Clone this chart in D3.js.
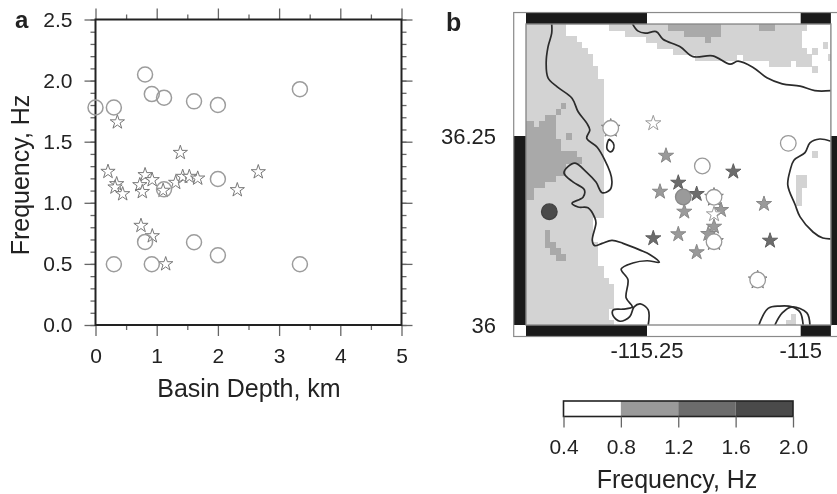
<!DOCTYPE html>
<html>
<head>
<meta charset="utf-8">
<script src="https://cdn.jsdelivr.net/npm/d3@7"></script>
<style>
body { margin: 0; background: #fff; }
svg { display: block; filter: blur(0.35px); }
text { font-family: "Liberation Sans", Arial, sans-serif; fill: #222; }
</style>
</head>
<body>
<div id="chart"></div>
<script>
// panel a: [basin depth km, frequency Hz]
const scatterCircles = [[0,1.78],[0.30,1.78],[0.81,2.05],[0.92,1.89],[1.12,1.86],[1.61,1.83],[2.0,1.80],[3.34,1.93],
  [2.0,1.195],[1.12,1.11],[0.81,0.68],[1.61,0.677],[2.0,0.57],[0.30,0.497],[0.92,0.497],[3.34,0.497]];
const scatterStars = [[0.357,1.66],[1.386,1.41],[0.204,1.255],[2.66,1.252],[0.81,1.228],[0.926,1.187],[0.724,1.146],
  [0.346,1.154],[0.319,1.127],[0.444,1.072],[0.765,1.09],[1.105,1.10],[1.31,1.165],[1.425,1.214],[1.533,1.214],
  [1.67,1.20],[2.317,1.105],[0.743,0.813],[0.928,0.728],[1.147,0.499]];

// panel b: [lon, lat, frequency]
const mapStars = [[-115.2398,36.2668,0.6],[-115.2191,36.2239,1.1],[-115.1096,36.2028,1.4],[-115.1991,36.1882,1.4],
  [-115.2289,36.1763,1.1],[-115.1692,36.1733,1.4],[-115.1296,36.1521,1.1],[-115.1893,36.1499,1.1],[-115.141,36.1464,0.6],
  [-115.0597,36.1601,1.1],[-115.141,36.13,1.1],[-115.1503,36.1204,1.1],[-115.1991,36.12,1.1],[-115.2398,36.1147,1.4],
  [-115.0499,36.1115,1.4],[-115.1692,36.0962,1.1]];
// white stars that sit under the open circles, only the tips show
const mapStarsUnder = [[-115.309,36.2602,0.6],[-115.141,36.1689,0.6],[-115.141,36.1102,0.6],[-115.07,36.0595,0.6]];
const mapCircles = [[-115.191,36.1693,1.0],[-115.16,36.2103,0.6],[-115.141,36.1689,0.6],[-115.141,36.1102,0.6],
  [-115.0202,36.2403,0.6],[-115.309,36.2602,0.6],[-115.07,36.0595,0.6],[-115.4089,36.1499,1.8]];

// coast lines, lon/lat
const coastWest = [[-115.405,36.398],[-115.405,36.386],[-115.411,36.368],[-115.414,36.347],[-115.411,36.327],[-115.396,36.315],
  [-115.372,36.300],[-115.362,36.282],[-115.348,36.267],[-115.343,36.258],[-115.348,36.247],[-115.331,36.235],[-115.310,36.202],
  [-115.307,36.189],[-115.310,36.179],[-115.323,36.175],[-115.333,36.189],[-115.348,36.202],[-115.367,36.214],[-115.379,36.209],
  [-115.385,36.201],[-115.370,36.189],[-115.352,36.179],[-115.354,36.169],[-115.372,36.161],[-115.362,36.156],[-115.346,36.155],
  [-115.335,36.142],[-115.333,36.135],[-115.339,36.112],[-115.335,36.105],[-115.323,36.108],[-115.307,36.112],[-115.289,36.108],
  [-115.261,36.099],[-115.245,36.093],[-115.230,36.083],[-115.250,36.085],[-115.273,36.082],[-115.292,36.074],[-115.281,36.060],
  [-115.284,36.036],[-115.274,36.024],[-115.289,36.021],[-115.305,36.020],[-115.305,36.012],[-115.294,36.005],[-115.278,36.011],
  [-115.271,36.024],[-115.261,36.028],[-115.248,36.020],[-115.248,36.000]];
const coastIsland = [[-115.312,36.246],[-115.305,36.241],[-115.304,36.234],[-115.309,36.229],[-115.315,36.233],[-115.315,36.239],[-115.312,36.246]];
const coastNorth = [[-115.274,36.399],[-115.265,36.389],[-115.253,36.386],[-115.235,36.388],[-115.224,36.378],[-115.196,36.368],
  [-115.175,36.355],[-115.143,36.356],[-115.115,36.345],[-115.102,36.349],[-115.078,36.341],[-115.055,36.327],[-115.030,36.319],
  [-115.001,36.316],[-114.977,36.310],[-114.951,36.310]];
const coastEast = [[-114.951,36.243],[-114.969,36.246],[-114.985,36.241],[-114.993,36.228],[-115.011,36.218],[-115.017,36.205],
  [-115.021,36.185],[-115.009,36.159],[-115.001,36.143],[-114.980,36.123],[-114.964,36.115],[-114.951,36.114]];
const coastSouthA = [[-115.068,36.000],[-115.053,36.022],[-115.034,36.025],[-115.014,36.024],[-115.001,36.017],[-114.996,36.000]];
const coastSouthB = [[-115.042,36.000],[-115.030,36.016],[-115.014,36.024],[-114.990,36.016],[-114.985,36.000]];
const coasts = [coastWest, coastIsland, coastNorth, coastEast, coastSouthA, coastSouthB];

// basin raster, runs of grid cells: [row, first col, end col]
const rasterLight = [[0,0,8],[1,0,8],[2,0,10],[3,0,11],[4,0,12],[5,0,13],[6,0,13],[7,0,14],[8,0,14],
  ...d3.range(9,32).map(r => [r,0,15]),
  [32,0,13],[33,0,13],[34,0,13],[35,0,13],[36,0,14],[37,0,14],[38,0,14],[39,0,14],[40,0,15],[41,0,15],[42,0,16],
  [43,0,17],[44,0,17],[45,0,17],[46,0,17],[47,0,16],[48,0,16],[49,0,17],
  [0,16,53],[1,19,52],[2,23,52],[3,25,52],[4,28,53],[5,32,40],[5,41,54],[6,46,50],[6,51,54],
  [3,56,57],[4,54,55],[5,57,58],[7,54,55],[21,54,55],[25,51,53],[26,51,53],[27,51,52],[28,51,52],[29,51,52],[48,50,51],[49,49,51]];
const rasterDark = [[13,7,8],[14,6,7],[15,4,6],[16,0,2],[16,3,6],[17,0,6],[18,0,6],[18,8,9],[19,0,7],[20,0,7],[21,0,10],[22,0,11],
  [23,0,8],[24,0,8],[25,0,6],[26,0,4],[27,0,2],[28,0,2],[34,4,5],[35,4,5],[36,4,6],[37,5,7],[38,6,8],
  [0,27,37],[1,30,37],[2,34,35],[0,44,47]];
const gridLonStart = -115.451, gridLonStep = 0.0087, gridLatStart = 36.398, gridLatStep = 0.008;

const freqEdges = [0.4,0.8,1.2,1.6,2.0];
const freqColors = ["#ffffff","#9a9a9a","#6c6c6c","#4a4a4a"];
const depthTicks = [0,1,2,3,4,5];
const freqTicks = [0,0.5,1,1.5,2,2.5];
const lonTicks = [-115.25,-115];
const latTicks = [36,36.25];
const lonLabels = ["-115.25","-115"];
const latLabels = ["36","36.25"];

const width = 837, height = 494;
const svg = d3.select("#chart").append("svg").attr("width", width).attr("height", height);

const freqColor = d3.scaleThreshold().domain(freqEdges.slice(1,4)).range(freqColors);
const star = r => d3.symbol(d3.symbolStar, r * r / 0.8908)();

// ---- panel a ----
const x = d3.scaleLinear([0,5],[95.5,401.5]);
const y = d3.scaleLinear([0,2.5],[325,19.5]);
const tickGray = "#666";

function styleAxis(g, size){
  g.select(".domain").remove();
  g.selectAll("line").attr("stroke", tickGray).attr("stroke-width", 1.3);
  g.selectAll("text").style("font-size", size + "px").attr("fill", "#222");
}
const minorX = d3.range(0.5,5,1), minorY = d3.range(0,2.51,0.1);

[[d3.axisBottom, 325],[d3.axisTop, 19.5]].forEach(([ax, pos]) => {
  svg.append("g").attr("transform", `translate(0,${pos})`)
    .call(ax(x).tickValues(minorX).tickSize(5).tickFormat("")).call(styleAxis, 21);
  const major = svg.append("g").attr("transform", `translate(0,${pos})`)
    .call(ax(x).tickValues(depthTicks).tickSize(11).tickPadding(11.8).tickFormat(pos === 325 ? d3.format("d") : ""));
  major.call(styleAxis, 21);
});
[[d3.axisLeft, 95.5],[d3.axisRight, 401.5]].forEach(([ax, pos]) => {
  svg.append("g").attr("transform", `translate(${pos},0)`)
    .call(ax(y).tickValues(minorY).tickSize(5).tickFormat("")).call(styleAxis, 21);
  svg.append("g").attr("transform", `translate(${pos},0)`)
    .call(ax(y).tickValues(freqTicks).tickSize(11).tickPadding(12).tickFormat(pos === 95.5 ? d3.format(".1f") : ""))
    .call(styleAxis, 21);
});
svg.append("rect").attr("x", x(0)).attr("y", y(2.5)).attr("width", x(5)-x(0)).attr("height", y(0)-y(2.5))
  .attr("fill", "none").attr("stroke", "#222").attr("stroke-width", 2);

svg.append("g").selectAll("path").data(scatterStars).join("path")
  .attr("d", star(7.5))
  .attr("transform", d => `translate(${x(d[0])},${y(d[1])})`)
  .attr("fill", "#fff").attr("stroke", "#777").attr("stroke-width", 1);
svg.append("g").selectAll("circle").data(scatterCircles).join("circle")
  .attr("cx", d => x(d[0])).attr("cy", d => y(d[1])).attr("r", 7.5)
  .attr("fill", "none").attr("stroke", "#9c9c9c").attr("stroke-width", 1.5);

svg.append("text").attr("x", 15).attr("y", 28).style("font-size", "24px").style("font-weight", "bold").text("a");
svg.append("text").attr("x", 249).attr("y", 397).attr("text-anchor", "middle").style("font-size", "25px").text("Basin Depth, km");
svg.append("text").attr("transform", "translate(29,175) rotate(-90)").attr("text-anchor", "middle").style("font-size", "25px").text("Frequency, Hz");

// ---- panel b ----
const mx = d3.scaleLinear(lonTicks,[647,800.7]);
const my = d3.scaleLinear(latTicks,[325,136]);
const west = -115.4468, east = -114.9509, north = 36.3981, south = 36;

svg.append("clipPath").attr("id", "mapClip").append("rect")
  .attr("x", mx(west)).attr("y", my(north)).attr("width", mx(east)-mx(west)).attr("height", my(south)-my(north));
const map = svg.append("g").attr("clip-path", "url(#mapClip)");

function drawRaster(runs, fill){
  map.append("g").attr("shape-rendering", "crispEdges").selectAll("rect").data(runs).join("rect")
    .attr("x", d => mx(gridLonStart + d[1]*gridLonStep))
    .attr("width", d => mx(gridLonStart + d[2]*gridLonStep) - mx(gridLonStart + d[1]*gridLonStep))
    .attr("y", d => my(gridLatStart - d[0]*gridLatStep))
    .attr("height", my(gridLatStart - gridLatStep) - my(gridLatStart) + 0.6)
    .attr("fill", fill);
}
drawRaster(rasterLight, "#d3d3d3");
drawRaster(rasterDark, "#a9a9a9");

const coastLine = d3.line().x(d => mx(d[0])).y(d => my(d[1])).curve(d3.curveCatmullRom);
map.append("g").selectAll("path").data(coasts).join("path")
  .attr("d", coastLine).attr("fill", "none").attr("stroke", "#2b2b2b").attr("stroke-width", 1.7);

// checkered map border
const bandW = 12.3, bandH = 11.5;
const lonEdges = [west, ...lonTicks, east];
const lonFill = ["#1a1a1a","#fff","#1a1a1a"], latFill = ["#1a1a1a","#fff"];
const border = svg.append("g");
[my(north)-bandH, my(south)].forEach(top => {
  border.selectAll(null).data(d3.pairs(lonEdges)).join("rect")
    .attr("x", d => mx(d[0])).attr("width", d => mx(d[1])-mx(d[0]))
    .attr("y", top).attr("height", bandH).attr("fill", (d,i) => lonFill[i]);
});
[mx(west)-bandW, mx(east)].forEach(left => {
  border.selectAll(null).data(d3.pairs([south, 36.25, north])).join("rect")
    .attr("y", d => my(d[1])).attr("height", d => my(d[0])-my(d[1]))
    .attr("x", left).attr("width", bandW).attr("fill", (d,i) => latFill[i]);
});
border.append("rect").attr("x", mx(west)).attr("y", my(north)).attr("width", mx(east)-mx(west)).attr("height", my(south)-my(north))
  .attr("fill", "none").attr("stroke", "#8a8a8a").attr("stroke-width", 1.4);
border.append("rect").attr("x", mx(west)-bandW).attr("y", my(north)-bandH).attr("width", mx(east)-mx(west)+2*bandW).attr("height", my(south)-my(north)+2*bandH)
  .attr("fill", "none").attr("stroke", "#8a8a8a").attr("stroke-width", 1.2);

const markerStroke = f => f < 0.8 ? "#999" : d3.color(freqColor(f)).darker(0.35);
svg.append("g").selectAll("path").data(mapStarsUnder).join("path")
  .attr("d", star(9.8))
  .attr("transform", d => `translate(${mx(d[0])},${my(d[1])})`)
  .attr("fill", "#fff").attr("stroke", "#777").attr("stroke-width", 1);
svg.append("g").selectAll("path").data(mapStars).join("path")
  .attr("d", star(8))
  .attr("transform", d => `translate(${mx(d[0])},${my(d[1])})`)
  .attr("fill", d => freqColor(d[2])).attr("stroke", d => markerStroke(d[2])).attr("stroke-width", 1);
svg.append("g").selectAll("circle").data(mapCircles).join("circle")
  .attr("cx", d => mx(d[0])).attr("cy", d => my(d[1])).attr("r", 7.8)
  .attr("fill", d => freqColor(d[2])).attr("stroke", d => markerStroke(d[2])).attr("stroke-width", 1.3);

svg.append("text").attr("x", 446).attr("y", 31).style("font-size", "25px").style("font-weight", "bold").text("b");
svg.selectAll(null).data(latTicks).join("text")
  .attr("x", 496).attr("y", d => my(d) + 7.5).attr("text-anchor", "end").style("font-size", "22px")
  .text((d,i) => latLabels[i]);
svg.selectAll(null).data(lonTicks).join("text")
  .attr("x", d => mx(d)).attr("y", 358).attr("text-anchor", "middle").style("font-size", "22px")
  .text((d,i) => lonLabels[i]);

// ---- colour bar ----
const cx = d3.scaleLinear([0.4,2.0],[563.5,793]);
svg.append("g").selectAll("rect").data(d3.pairs(freqEdges)).join("rect")
  .attr("x", d => cx(d[0])).attr("width", d => cx(d[1])-cx(d[0]))
  .attr("y", 401).attr("height", 15.5).attr("fill", (d,i) => freqColors[i]);
svg.append("rect").attr("x", cx(0.4)).attr("y", 401).attr("width", cx(2)-cx(0.4)).attr("height", 15.5)
  .attr("fill", "none").attr("stroke", "#222").attr("stroke-width", 1.6);
svg.append("g").attr("transform", "translate(0,416.5)")
  .call(d3.axisBottom(cx).tickValues(freqEdges).tickSize(11).tickPadding(11.6).tickFormat(d3.format(".1f")))
  .call(styleAxis, 21);
svg.append("text").attr("x", 677).attr("y", 488).attr("text-anchor", "middle").style("font-size", "25px").text("Frequency, Hz");
</script>
</body>
</html>
